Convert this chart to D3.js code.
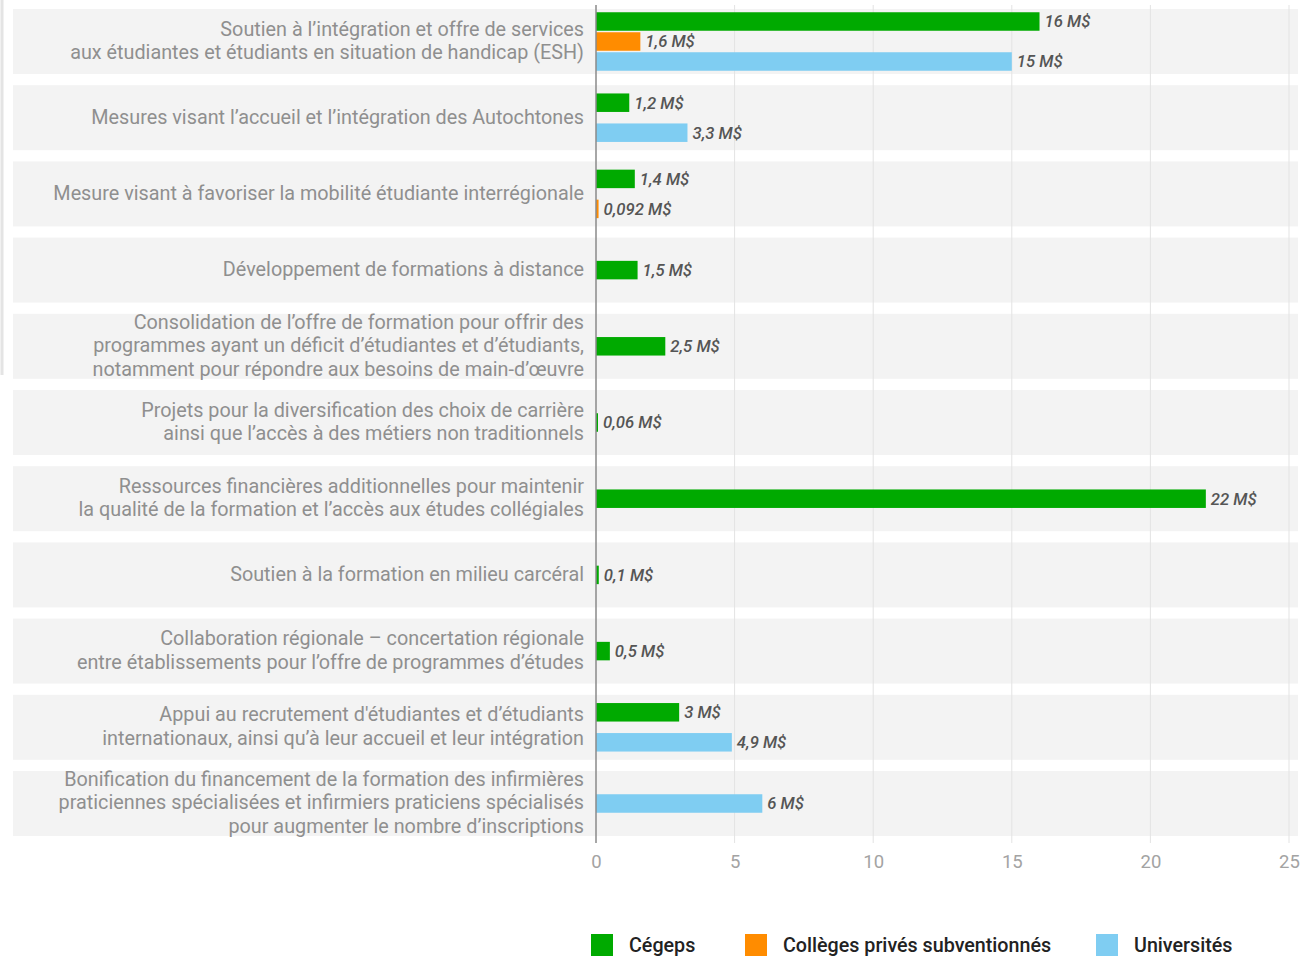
<!DOCTYPE html>
<html>
<head>
<meta charset="utf-8">
<script src="https://cdn.jsdelivr.net/npm/d3@7"></script>
<style>
  body { margin: 0; background: #fff; }
  svg { display: block; font-family: Roboto, sans-serif; }
</style>
</head>
<body>
<script>
var categories = [
    ["Soutien à l’intégration et offre de services", "aux étudiantes et étudiants en situation de handicap (ESH)"],
    ["Mesures visant l’accueil et l’intégration des Autochtones"],
    ["Mesure visant à favoriser la mobilité étudiante interrégionale"],
    ["Développement de formations à distance"],
    ["Consolidation de l’offre de formation pour offrir des", "programmes ayant un déficit d’étudiantes et d’étudiants,", "notamment pour répondre aux besoins de main-d’œuvre"],
    ["Projets pour la diversification des choix de carrière", "ainsi que l’accès à des métiers non traditionnels"],
    ["Ressources financières additionnelles pour maintenir", "la qualité de la formation et l’accès aux études collégiales"],
    ["Soutien à la formation en milieu carcéral"],
    ["Collaboration régionale – concertation régionale", "entre établissements pour l’offre de programmes d’études"],
    ["Appui au recrutement d'étudiantes et d’étudiants", "internationaux, ainsi qu’à leur accueil et leur intégration"],
    ["Bonification du financement de la formation des infirmières", "praticiennes spécialisées et infirmiers praticiens spécialisés", "pour augmenter le nombre d’inscriptions"]
];
var seriesNames = ["Cégeps", "Collèges privés subventionnés", "Universités"];
var seriesColors = ["#00aa00", "#ff8c00", "#7fcdf2"];
var cegeps = [16, 1.2, 1.4, 1.5, 2.5, 0.06, 22, 0.1, 0.5, 3, null];
var colleges = [1.6, null, 0.092, null, null, null, null, null, null, null, null];
var universites = [15, 3.3, null, null, null, null, null, null, null, 4.9, 6];
var xTicks = [0, 5, 10, 15, 20, 25];

var width = 1304, height = 959;
var x0 = 596;

var svg = d3.select("body").append("svg")
    .attr("width", width)
    .attr("height", height);

var x = d3.scaleLinear().domain([0, 25]).range([x0, 1289]);
var y = d3.scaleBand()
    .domain(d3.range(categories.length))
    .range([9, 836])
    .paddingInner(0.147);

// faint left border
svg.append("line")
    .attr("x1", 2).attr("x2", 2).attr("y1", 0).attr("y2", 375)
    .attr("stroke", "#e4e4e4").attr("stroke-width", 3);

// row backgrounds
svg.selectAll(".band").data(d3.range(categories.length)).enter().append("rect")
    .attr("class", "band")
    .attr("x", 13)
    .attr("width", 1298 - 13)
    .attr("y", function(i) { return y(i); })
    .attr("height", y.bandwidth())
    .attr("fill", "#f3f3f3");

// gridlines
svg.selectAll(".grid").data(xTicks.slice(1)).enter().append("line")
    .attr("class", "grid")
    .attr("x1", function(d) { return x(d); })
    .attr("x2", function(d) { return x(d); })
    .attr("y1", 5).attr("y2", 843)
    .attr("stroke", "#e3e3e3")
    .attr("stroke-width", 1);

// category labels
var labelG = svg.selectAll(".cat").data(categories).enter().append("text")
    .attr("class", "cat")
    .attr("text-anchor", "end")
    .attr("fill", "#8f8f8f")
    .style("font-size", "19.8px");
labelG.each(function(lines, i) {
    var cy = y(i) + y.bandwidth() / 2 - 1;
    var lh = 23.6;
    var top = cy - (lines.length - 1) * lh / 2;
    d3.select(this).selectAll("tspan").data(lines).enter().append("tspan")
        .attr("x", 584)
        .attr("y", function(d, j) { return top + j * lh; })
        .attr("dy", "0.35em")
        .text(function(d) { return d; });
});

// bars
var allSeries = [cegeps, colleges, universites];
var bars = [];
categories.forEach(function(c, i) {
    var present = [];
    allSeries.forEach(function(s, k) {
        if (s[i] != null) present.push(k);
    });
    var n = present.length;
    var pitch = n === 3 ? 20 : 30;
    var cy = y(i) + y.bandwidth() / 2;
    present.forEach(function(k, j) {
        bars.push({ value: allSeries[k][i], series: k, cy: cy + (j - (n - 1) / 2) * pitch });
    });
});

var barH = 18.5;
svg.selectAll(".bar").data(bars).enter().append("rect")
    .attr("class", "bar")
    .attr("x", x(0))
    .attr("y", function(d) { return d.cy - barH / 2; })
    .attr("width", function(d) { return Math.max(x(d.value) - x(0), 2); })
    .attr("height", barH)
    .attr("fill", function(d) { return seriesColors[d.series]; });

svg.selectAll(".val").data(bars).enter().append("text")
    .attr("class", "val")
    .attr("x", function(d) { return Math.max(x(d.value), x(0) + 2) + 5; })
    .attr("y", function(d) { return d.cy; })
    .attr("dy", "0.35em")
    .attr("fill", "#555")
    .style("font-size", "16.7px")
    .style("font-style", "italic")
    .style("font-weight", "500")
    .text(function(d) { return String(d.value).replace(".", ",") + " M$"; });

// axis line
svg.append("line")
    .attr("x1", x(0)).attr("x2", x(0)).attr("y1", 5).attr("y2", 843)
    .attr("stroke", "#8a8a8a").attr("stroke-width", 1.5);

// x axis labels
var xAxis = d3.axisBottom(x).tickValues(xTicks).tickSize(0).tickPadding(0);
var axisG = svg.append("g")
    .attr("transform", "translate(0,855)")
    .call(xAxis);
axisG.select(".domain").remove();
axisG.selectAll("text")
    .attr("fill", "#a3a3a3")
    .style("font-size", "18.5px")
    .style("font-family", "Roboto, sans-serif");

// legend
var legendX = [591, 745, 1096];
var legend = svg.selectAll(".leg").data(seriesNames).enter().append("g")
    .attr("class", "leg")
    .attr("transform", function(d, i) { return "translate(" + legendX[i] + ",934)"; });
legend.append("rect")
    .attr("width", 22).attr("height", 22)
    .attr("fill", function(d, i) { return seriesColors[i]; });
legend.append("text")
    .attr("x", 38).attr("y", 11).attr("dy", "0.35em")
    .attr("fill", "#222")
    .style("font-size", "19.7px")
    .style("font-weight", "500")
    .text(function(d) { return d; });
</script>
</body>
</html>
